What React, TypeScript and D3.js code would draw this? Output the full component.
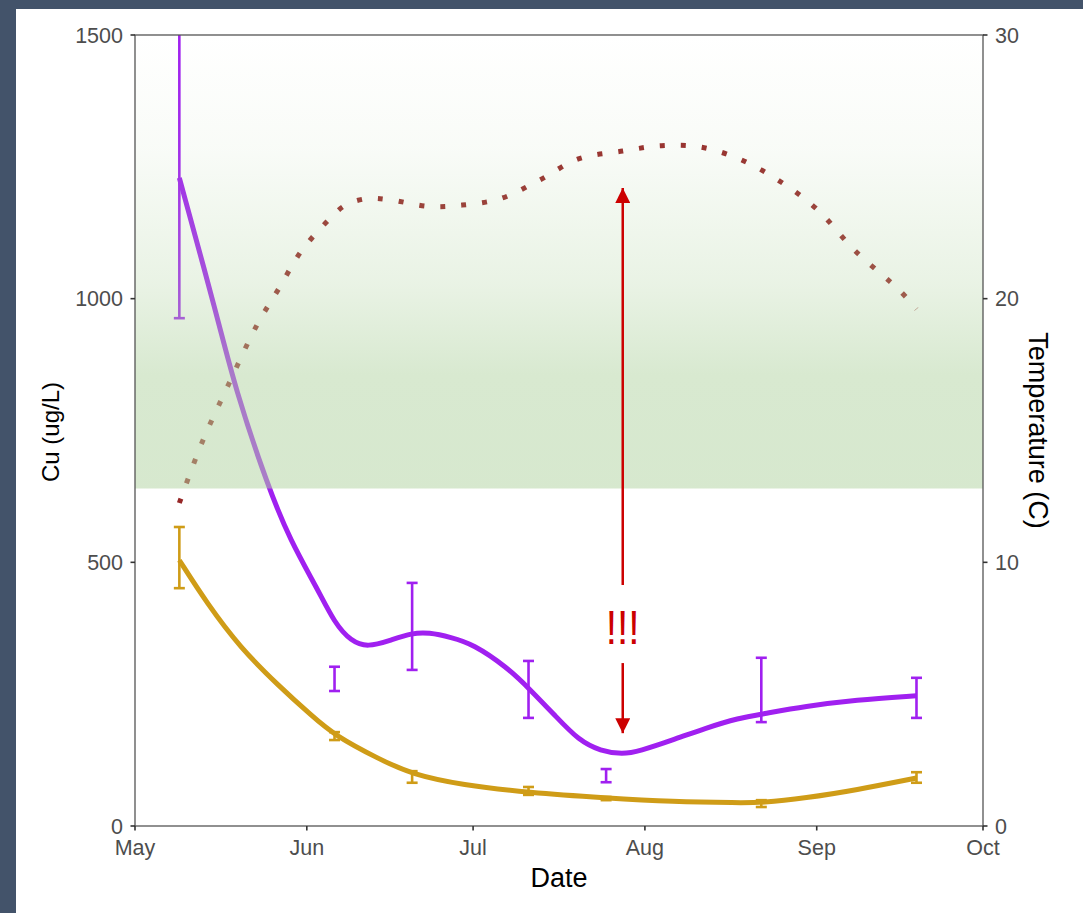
import React from "react";
import * as d3 from "d3";

// ---------- data ----------
const sampleDates = ["2021-05-09", "2021-06-06", "2021-06-20", "2021-07-11", "2021-07-25", "2021-08-22", "2021-09-19"];
const purpleLow = [963, 256, 296, 205, 83, 197, 205];
const purpleHigh = [1600, 302, 461, 313, 108, 319, 281];
const goldLow = [451, 163, 82, 59, 49, 36, 82];
const goldHigh = [567, 178, 104, 74, 55, 49, 102];

const purpleSmoothDates = ["2021-05-09", "2021-05-16", "2021-05-19", "2021-05-25", "2021-05-29", "2021-06-03", "2021-06-06", "2021-06-09", "2021-06-12", "2021-06-16", "2021-06-20", "2021-06-23", "2021-06-27", "2021-07-01", "2021-07-07", "2021-07-11", "2021-07-16", "2021-07-20", "2021-07-24", "2021-07-28", "2021-07-31", "2021-08-06", "2021-08-12", "2021-08-18", "2021-08-22", "2021-08-30", "2021-09-08", "2021-09-19"];
const purpleSmoothValues = [1229, 960, 832, 643, 542, 448, 385, 350, 339, 352, 366, 367, 358, 345, 302, 262, 207, 163, 142, 136, 142, 163, 186, 205, 212, 227, 239, 247];

const goldSmoothDates = ["2021-05-09", "2021-05-14", "2021-05-20", "2021-05-27", "2021-06-02", "2021-06-06", "2021-06-14", "2021-06-20", "2021-06-29", "2021-07-11", "2021-07-25", "2021-08-06", "2021-08-18", "2021-08-22", "2021-08-30", "2021-09-08", "2021-09-19"];
const goldSmoothValues = [504, 422, 338, 265, 208, 172, 127, 98, 78, 63, 53, 46, 44, 44, 53, 68, 91];

const tempDates = ["2021-05-09", "2021-05-13", "2021-05-18", "2021-05-23", "2021-05-27", "2021-05-31", "2021-06-05", "2021-06-08", "2021-06-12", "2021-06-16", "2021-06-23", "2021-06-29", "2021-07-06", "2021-07-13", "2021-07-20", "2021-07-28", "2021-08-04", "2021-08-11", "2021-08-18", "2021-08-25", "2021-09-01", "2021-09-08", "2021-09-16", "2021-09-19"];
const tempValues = [12.25, 14.5, 16.8, 19.0, 20.4, 21.8, 23.0, 23.55, 23.8, 23.75, 23.5, 23.55, 23.8, 24.5, 25.3, 25.6, 25.8, 25.75, 25.3, 24.5, 23.4, 21.8, 20.3, 19.6];

const xTickDates = ["2021-05-01", "2021-06-01", "2021-07-01", "2021-08-01", "2021-09-01", "2021-10-01"];
const cuTicks = [0, 500, 1000, 1500];
const tempTicks = [0, 10, 20, 30];

const bandTempLow = 12.8;
const bandTempHigh = 30;

// annotation (Cu units, date)
const arrowDate = "2021-07-28";
const arrowTop = 1210;
const arrowUpperEnd = 457;
const arrowLowerStart = 309;
const arrowBottom = 176;
const alertText = "!!!";
const alertValue = 379;

// ---------- layout ----------
const W = 1083;
const H = 913;
const L = 135, R = 983, T = 35, B = 826;
const PURPLE = "#a020f0";
const GOLD = "#cf9c17";
const TEMP = "#8b1010";
const ALERT = "#cc0000";
const FONT = "'Liberation Sans', Arial, sans-serif";

const parse = (s: string) => new Date(s + "T00:00:00Z");

export default function App() {
  const x = d3.scaleUtc().domain([parse("2021-05-01"), parse("2021-10-01")]).range([L, R]);
  const yCu = d3.scaleLinear().domain([0, 1500]).range([B, T]);
  const yT = d3.scaleLinear().domain([0, 30]).range([B, T]);
  const fmt = d3.utcFormat("%b");

  const line = d3
    .line<[Date, number]>()
    .x((d) => x(d[0]))
    .y((d) => yCu(d[1]))
    .curve(d3.curveBasis);
  const tline = d3
    .line<[Date, number]>()
    .x((d) => x(d[0]))
    .y((d) => yT(d[1]))
    .curve(d3.curveCatmullRom.alpha(0.5));

  const purplePath = line(purpleSmoothDates.map((d, i) => [parse(d), purpleSmoothValues[i]]));
  const goldPath = line(goldSmoothDates.map((d, i) => [parse(d), goldSmoothValues[i]]));
  const tempPath = tline(tempDates.map((d, i) => [parse(d), tempValues[i]]));

  const cap = 5.5;
  const errBars = (lo: number[], hi: number[], color: string, key: string) =>
    sampleDates.map((d, i) => {
      const cx = x(parse(d));
      const y1 = yCu(hi[i]);
      const y2 = yCu(lo[i]);
      return (
        <g key={key + i} stroke={color} strokeWidth={2.6} fill="none">
          <line x1={cx} x2={cx} y1={y1} y2={y2} />
          <line x1={cx - cap} x2={cx + cap} y1={y1} y2={y1} />
          <line x1={cx - cap} x2={cx + cap} y1={y2} y2={y2} />
        </g>
      );
    });

  const ax = x(parse(arrowDate));
  const bandTop = yT(bandTempHigh);
  const bandBottom = yT(bandTempLow);

  return (
    <svg width={W} height={H} style={{ position: "absolute", left: 0, top: 0, display: "block" }} fontFamily={FONT}>
      <defs>
        <clipPath id="plot">
          <rect x={L} y={T} width={R - L} height={B - T} />
        </clipPath>
        <linearGradient id="band" x1="0" y1="0" x2="0" y2="1">
          <stop offset="0" stopColor="#b1d3a1" stopOpacity={0.0} />
          <stop offset="0.25" stopColor="#b1d3a1" stopOpacity={0.08} />
          <stop offset="0.55" stopColor="#b1d3a1" stopOpacity={0.28} />
          <stop offset="0.75" stopColor="#b1d3a1" stopOpacity={0.5} />
          <stop offset="1" stopColor="#b1d3a1" stopOpacity={0.52} />
        </linearGradient>
        <marker id="ah" viewBox="0 0 10 10" refX="10" refY="5" markerWidth="15" markerHeight="15" markerUnits="userSpaceOnUse" orient="auto">
          <path d="M0,0 L10,5 L0,10 z" fill={ALERT} />
        </marker>
      </defs>
      <rect x={0} y={0} width={W} height={H} fill="#43536a" />
      <rect x={16} y={9} width={W - 16} height={H - 9} fill="#ffffff" />

      <g clipPath="url(#plot)">
        {errBars(purpleLow, purpleHigh, PURPLE, "p")}
        <path d={purplePath || ""} fill="none" stroke={PURPLE} strokeWidth={5} />
        {errBars(goldLow, goldHigh, GOLD, "g")}
        <path d={goldPath || ""} fill="none" stroke={GOLD} strokeWidth={5} />
        <path d={tempPath || ""} fill="none" stroke={TEMP} strokeWidth={5} strokeDasharray="5 16" strokeOpacity={0.9} />
        <rect x={L} y={bandTop} width={R - L} height={bandBottom - bandTop} fill="url(#band)" />
      </g>

      {/* annotation */}
      <line x1={ax} x2={ax} y1={yCu(arrowUpperEnd)} y2={yCu(arrowTop)} stroke={ALERT} strokeWidth={2.5} markerEnd="url(#ah)" />
      <line x1={ax} x2={ax} y1={yCu(arrowLowerStart)} y2={yCu(arrowBottom)} stroke={ALERT} strokeWidth={2.5} markerEnd="url(#ah)" />
      <text x={ax} y={yCu(alertValue)} dy="0.36em" textAnchor="middle" fontSize={49} fill={ALERT} transform={`translate(${ax},0) scale(0.83,1) translate(${-ax},0)`}>
        {alertText}
      </text>

      {/* panel border */}
      <rect x={L} y={T} width={R - L} height={B - T} fill="none" stroke="#555" strokeWidth={1.3} />

      {/* left axis */}
      {cuTicks.map((t) => (
        <g key={"cl" + t}>
          <line x1={L - 4.5} x2={L} y1={yCu(t)} y2={yCu(t)} stroke="#333" strokeWidth={1.6} />
          <text x={L - 12} y={yCu(t)} dy="0.35em" textAnchor="end" fontSize={21.5} fill="#4d4d4d">
            {t}
          </text>
        </g>
      ))}
      {/* right axis */}
      {tempTicks.map((t) => (
        <g key={"tr" + t}>
          <line x1={R} x2={R + 4.5} y1={yT(t)} y2={yT(t)} stroke="#333" strokeWidth={1.6} />
          <text x={R + 12} y={yT(t)} dy="0.35em" textAnchor="start" fontSize={21.5} fill="#4d4d4d">
            {t}
          </text>
        </g>
      ))}
      {/* bottom axis */}
      {xTickDates.map((d) => (
        <g key={"x" + d}>
          <line x1={x(parse(d))} x2={x(parse(d))} y1={B} y2={B + 4.5} stroke="#333" strokeWidth={1.6} />
          <text x={x(parse(d))} y={855} textAnchor="middle" fontSize={21.5} fill="#4d4d4d">
            {fmt(parse(d))}
          </text>
        </g>
      ))}

      {/* titles */}
      <text x={(L + R) / 2} y={887} textAnchor="middle" fontSize={27} fill="#000">
        Date
      </text>
      <text transform={`translate(59,432) rotate(-90)`} textAnchor="middle" fontSize={24} fill="#000">
        Cu (ug/L)
      </text>
      <text transform={`translate(1029,${(T + B) / 2}) rotate(90)`} textAnchor="middle" fontSize={27} fill="#000">
        Temperature (C)
      </text>
    </svg>
  );
}
